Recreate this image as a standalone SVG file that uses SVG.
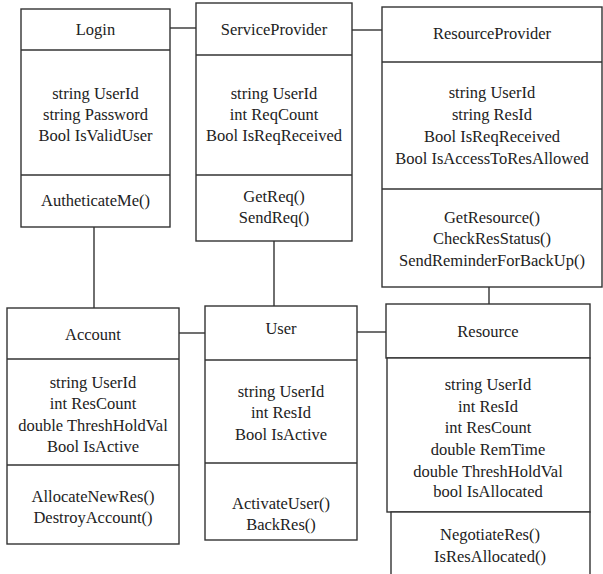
<svg xmlns="http://www.w3.org/2000/svg" width="603" height="574" viewBox="0 0 603 574">
  <style>
    .box { fill: #ffffff; stroke: #333333; stroke-width: 1.4; }
    .div { stroke: #333333; stroke-width: 1.4; fill: none; }
    .link { stroke: #333333; stroke-width: 1.4; fill: none; }
    text { font-family: "Liberation Serif", serif; font-size: 16.5px; fill: #222222; text-anchor: middle; }
  </style>
  <rect width="603" height="574" fill="#ffffff"/>

  <!-- associations between classes -->
  <g id="connectors">
    <line class="link" x1="170" y1="28" x2="196" y2="28"/>
    <line class="link" x1="352" y1="30" x2="382" y2="30"/>
    <line class="link" x1="94" y1="227" x2="94" y2="308"/>
    <line class="link" x1="274" y1="241" x2="274" y2="306"/>
    <line class="link" x1="489" y1="287" x2="489" y2="304"/>
    <line class="link" x1="179" y1="333" x2="205" y2="333"/>
    <line class="link" x1="357" y1="332" x2="386" y2="332"/>
  </g>

  <g id="login">
    <rect class="box" x="21" y="9" width="149" height="218"/>
    <line class="div" x1="21" y1="50" x2="170" y2="50"/>
    <line class="div" x1="21" y1="175" x2="170" y2="175"/>
    <text x="95.5" y="35">Login</text>
    <text x="95.5" y="99">string UserId</text>
    <text x="95.5" y="120">string Password</text>
    <text x="95.5" y="141">Bool IsValidUser</text>
    <text x="95.5" y="206">AutheticateMe()</text>
  </g>

  <g id="serviceprovider">
    <rect class="box" x="196" y="3" width="156" height="238"/>
    <line class="div" x1="196" y1="55" x2="352" y2="55"/>
    <line class="div" x1="196" y1="175" x2="352" y2="175"/>
    <text x="274" y="35">ServiceProvider</text>
    <text x="274" y="99">string UserId</text>
    <text x="274" y="120">int ReqCount</text>
    <text x="274" y="141">Bool IsReqReceived</text>
    <text x="274" y="202">GetReq()</text>
    <text x="274" y="223">SendReq()</text>
  </g>

  <g id="resourceprovider">
    <rect class="box" x="382" y="7" width="220" height="280"/>
    <line class="div" x1="382" y1="62" x2="602" y2="62"/>
    <line class="div" x1="382" y1="189" x2="602" y2="189"/>
    <text x="492" y="39">ResourceProvider</text>
    <text x="492" y="98">string UserId</text>
    <text x="492" y="120">string ResId</text>
    <text x="492" y="142">Bool IsReqReceived</text>
    <text x="492" y="164">Bool IsAccessToResAllowed</text>
    <text x="492" y="223">GetResource()</text>
    <text x="492" y="244">CheckResStatus()</text>
    <text x="492" y="266">SendReminderForBackUp()</text>
  </g>

  <g id="account">
    <rect class="box" x="7" y="308" width="172" height="236"/>
    <line class="div" x1="7" y1="359" x2="179" y2="359"/>
    <line class="div" x1="7" y1="465" x2="179" y2="465"/>
    <text x="93" y="340">Account</text>
    <text x="93" y="388">string UserId</text>
    <text x="93" y="409">int ResCount</text>
    <text x="93" y="431">double ThreshHoldVal</text>
    <text x="93" y="452">Bool IsActive</text>
    <text x="93" y="502">AllocateNewRes()</text>
    <text x="93" y="523">DestroyAccount()</text>
  </g>

  <g id="user">
    <rect class="box" x="205" y="306" width="152" height="234"/>
    <line class="div" x1="205" y1="360" x2="357" y2="360"/>
    <line class="div" x1="205" y1="463" x2="357" y2="463"/>
    <text x="281" y="334">User</text>
    <text x="281" y="397">string UserId</text>
    <text x="281" y="418">int ResId</text>
    <text x="281" y="440">Bool IsActive</text>
    <text x="281" y="509">ActivateUser()</text>
    <text x="281" y="530">BackRes()</text>
  </g>

  <g id="resource">
    <rect class="box" x="386" y="304" width="204" height="54"/>
    <rect class="box" x="387" y="358" width="203" height="154"/>
    <rect class="box" x="391" y="512" width="199" height="70"/>
    <text x="488" y="337">Resource</text>
    <text x="488" y="390">string UserId</text>
    <text x="488" y="412">int ResId</text>
    <text x="488" y="433">int ResCount</text>
    <text x="488" y="455">double RemTime</text>
    <text x="488" y="477">double ThreshHoldVal</text>
    <text x="488" y="497">bool IsAllocated</text>
    <text x="490" y="540">NegotiateRes()</text>
    <text x="490" y="562">IsResAllocated()</text>
  </g>
</svg>
